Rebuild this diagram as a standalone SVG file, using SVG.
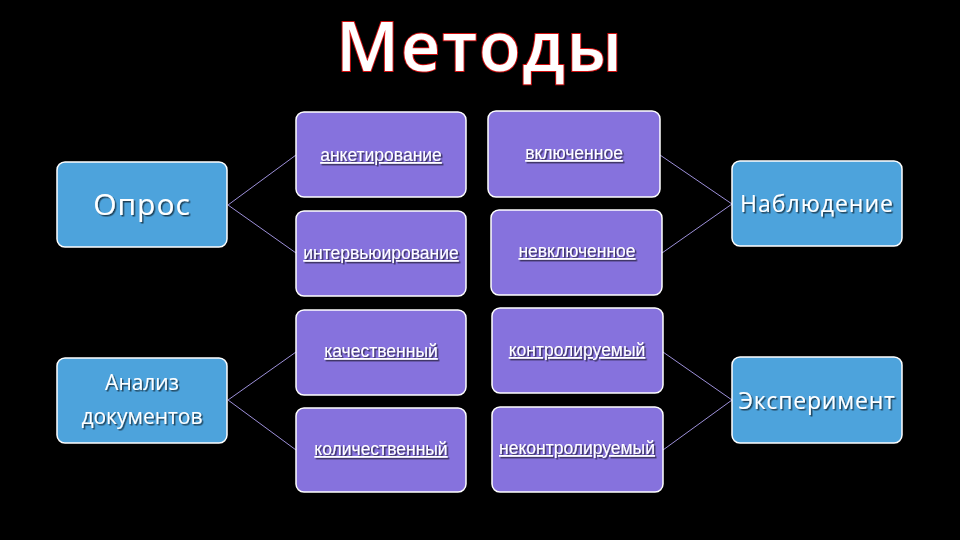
<svg xmlns="http://www.w3.org/2000/svg" width="960" height="540" viewBox="0 0 960 540">
<defs>
<filter id="sh" x="-10%" y="-30%" width="120%" height="160%"><feDropShadow dx="1.5" dy="1.5" stdDeviation="0.6" flood-color="#000" flood-opacity="0.6"/></filter>
<style>
.blue{fill:#4da3dc;stroke:#ffffff;stroke-width:1.5}
.purp{fill:#8672dd;stroke:#ffffff;stroke-width:1.5}
.bt{font-family:"Open Sans","Liberation Sans",sans-serif;fill:#ffffff;text-anchor:middle;filter:url(#sh)}
.pt{font-family:"Liberation Sans",Arial,sans-serif;font-size:17.5px;fill:#ffffff;text-anchor:middle;text-decoration:underline;filter:url(#sh)}
.con line{stroke:#9c8fd8;stroke-width:1}
</style>
</defs>
<rect width="960" height="540" fill="#000000"/>
<text x="480" y="71" font-family="Open Sans,Liberation Sans,sans-serif" font-weight="600" font-size="68" letter-spacing="2" fill="#ffffff" stroke="#d01010" stroke-width="2" paint-order="stroke" text-anchor="middle">Методы</text>
<g class="con">
<line x1="228" y1="205" x2="296" y2="155"/>
<line x1="228" y1="205" x2="296" y2="253"/>
<line x1="228" y1="400" x2="296" y2="352"/>
<line x1="228" y1="400" x2="296" y2="450"/>
<line x1="732" y1="204" x2="660" y2="155"/>
<line x1="732" y1="204" x2="662" y2="253"/>
<line x1="732" y1="400" x2="663" y2="352"/>
<line x1="732" y1="400" x2="663" y2="450"/>
</g>
<g id="opros"><rect class="blue" x="57" y="162" width="170" height="85" rx="8"/><text class="bt" x="142" y="215" font-size="30" letter-spacing="1">Опрос</text></g>
<g id="analiz"><rect class="blue" x="57" y="358" width="170" height="85" rx="8"/><text class="bt" x="142" y="390" font-size="21">Анализ</text><text class="bt" x="142" y="424" font-size="21">документов</text></g>
<g id="nabl"><rect class="blue" x="732" y="161" width="170" height="85" rx="8"/><text class="bt" x="817" y="212" font-size="23" letter-spacing="1">Наблюдение</text></g>
<g id="exp"><rect class="blue" x="732" y="357" width="170" height="86" rx="8"/><text class="bt" x="817" y="409" font-size="23" letter-spacing="0.8">Эксперимент</text></g>
<g id="anket"><rect class="purp" x="296" y="112" width="170" height="85" rx="8"/><text class="pt" x="381" y="161">анкетирование</text></g>
<g id="interv"><rect class="purp" x="296" y="211" width="170" height="85" rx="8"/><text class="pt" x="381" y="259">интервьюирование</text></g>
<g id="kach"><rect class="purp" x="296" y="310" width="170" height="85" rx="8"/><text class="pt" x="381" y="357">качественный</text></g>
<g id="kol"><rect class="purp" x="296" y="408" width="170" height="84" rx="8"/><text class="pt" x="381" y="455">количественный</text></g>
<g id="vkl"><rect class="purp" x="488" y="111" width="172" height="86" rx="8"/><text class="pt" x="574" y="159">включенное</text></g>
<g id="nevkl"><rect class="purp" x="491" y="210" width="171" height="85" rx="8"/><text class="pt" x="577" y="257">невключенное</text></g>
<g id="kontr"><rect class="purp" x="492" y="308" width="171" height="85" rx="8"/><text class="pt" x="577" y="356">контролируемый</text></g>
<g id="nekontr"><rect class="purp" x="492" y="407" width="171" height="85" rx="8"/><text class="pt" x="577" y="454">неконтролируемый</text></g>
</svg>
